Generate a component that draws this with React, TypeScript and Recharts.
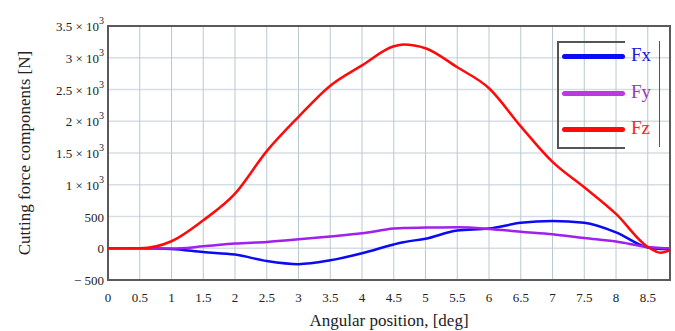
import React from 'react';
import { LineChart, Line, XAxis, YAxis, CartesianGrid, ReferenceArea, Legend } from 'recharts';

const angles = [0, 0.5, 1, 1.5, 2, 2.5, 3, 3.5, 4, 4.5, 4.65, 5, 5.5, 6, 6.5, 7, 7.5, 8, 8.5, 8.7, 8.85];
const fx = [0, 0, -10, -60, -100, -200, -250, -190, -80, 60, 95, 150, 280, 310, 400, 430, 400, 250, 10, -10, -10];
const fy = [0, 0, -5, 30, 75, 100, 140, 185, 235, 310, 320, 325, 330, 305, 260, 220, 160, 105, 20, 5, 0];
const fz = [0, 0, 110, 440, 860, 1530, 2070, 2560, 2880, 3180, 3210, 3150, 2850, 2520, 1920, 1360, 960, 540, 20, -70, -30];

const xTicks = [0, 0.5, 1, 1.5, 2, 2.5, 3, 3.5, 4, 4.5, 5, 5.5, 6, 6.5, 7, 7.5, 8, 8.5];
const yTicks = [-500, 0, 500, 1000, 1500, 2000, 2500, 3000, 3500];

const seriesNames = ['Fx', 'Fy', 'Fz'];
const lineColors = ['#0a0af5', '#a020f0', '#ff0a0a'];
const legendLineColors = ['#0a0af5', '#b83ae0', '#ff0a0a'];
const legendTextColors = ['#1a1ae0', '#9a3ab8', '#ff2020'];

const data = angles.map((a, i) => ({ a, Fx: fx[i], Fy: fy[i], Fz: fz[i] }));

const FONT = '"Liberation Serif", "DejaVu Serif", serif';

const YTick = (props: any) => {
  const { x, y, payload } = props;
  const v = payload.value as number;
  const st = { fontFamily: FONT, fontSize: 13 };
  if (v >= 1000) {
    return (
      <text x={x} y={y} textAnchor="end" dy={5} style={st} fill="#222">
        <tspan>{`${v / 1000} \u00d7 10`}</tspan>
        <tspan dy={-7} style={{ fontSize: 10 }}>3</tspan>
      </text>
    );
  }
  const label = v < 0 ? `\u2212 ${Math.abs(v)}` : `${v}`;
  return (
    <text x={x} y={y} textAnchor="end" dy={5} style={st} fill="#222">
      {label}
    </text>
  );
};

const XTick = (props: any) => {
  const { x, y, payload } = props;
  return (
    <text x={x} y={y} textAnchor="middle" dy={18} style={{ fontFamily: FONT, fontSize: 13 }} fill="#222">
      {payload.value}
    </text>
  );
};

const LegendContent = () => (
  <div style={{ position: 'relative', width: 110, height: 108, fontFamily: FONT }}>
    <div
      style={{
        position: 'absolute', left: 0, top: 0, width: 66, height: 104,
        borderTop: '2px solid #555', borderLeft: '2px solid #555', borderBottom: '2px solid #555',
      }}
    />
    <div style={{ position: 'absolute', left: 102, top: 0, width: 0, height: 106, borderLeft: '1.5px solid #555' }} />
    {seriesNames.map((n, i) => (
      <React.Fragment key={n}>
        <div
          style={{
            position: 'absolute', left: 5, top: 13 + i * 36.5, width: 63, height: 5,
            borderRadius: 3, background: legendLineColors[i],
          }}
        />
        <div
          style={{
            position: 'absolute', left: 74, top: 3 + i * 36.5, fontSize: 19, lineHeight: '22px',
            color: legendTextColors[i],
          }}
        >
          {n}
        </div>
      </React.Fragment>
    ))}
  </div>
);

export default function App() {
  return (
    <div style={{ position: 'absolute', left: 0, top: 0, width: 675, height: 331, background: '#fff' }}>
      <LineChart width={675} height={331} data={data} margin={{ top: 26, right: 5, left: 0, bottom: 0 }}>
        <CartesianGrid vertical={false} stroke="#d6dee3" strokeWidth={1.5} />
        <CartesianGrid horizontal={false} stroke="#b9c9d1" strokeWidth={1} />
        <XAxis
          dataKey="a"
          type="number"
          domain={[0, 8.85]}
          ticks={xTicks}
          interval={0}
          height={51}
          axisLine={false}
          tickLine={false}
          tickSize={0}
          tickMargin={4}
          tick={<XTick />}
          label={{ value: 'Angular position, [deg]', position: 'insideBottom', offset: 5, style: { fontSize: 17, fontFamily: FONT, fill: '#222' } }}
        />
        <YAxis
          type="number"
          domain={[-500, 3500]}
          ticks={yTicks}
          interval={0}
          width={108}
          axisLine={false}
          tickLine={false}
          tickSize={0}
          tickMargin={4}
          tick={<YTick />}
          label={{ value: 'Cutting force components [N]', angle: -90, position: 'insideLeft', offset: 24, style: { fontSize: 17, fontFamily: FONT, fill: '#222', textAnchor: 'middle' } }}
        />
        <ReferenceArea x1={0} x2={8.85} y1={-500} y2={3500} fill="none" stroke="#5a5a5a" strokeWidth={2} ifOverflow="visible" />
        {seriesNames.map((n, i) => (
          <Line
            key={n}
            dataKey={n}
            type="monotone"
            stroke={lineColors[i]}
            strokeWidth={2.5}
            dot={false}
            isAnimationActive={false}
            legendType="none"
          />
        ))}
        <Legend
          layout="horizontal"
          verticalAlign="middle"
          align="center"
          content={<LegendContent />}
          wrapperStyle={{ position: 'absolute', left: 557, top: 41, width: 112, height: 108 }}
        />
      </LineChart>
    </div>
  );
}
